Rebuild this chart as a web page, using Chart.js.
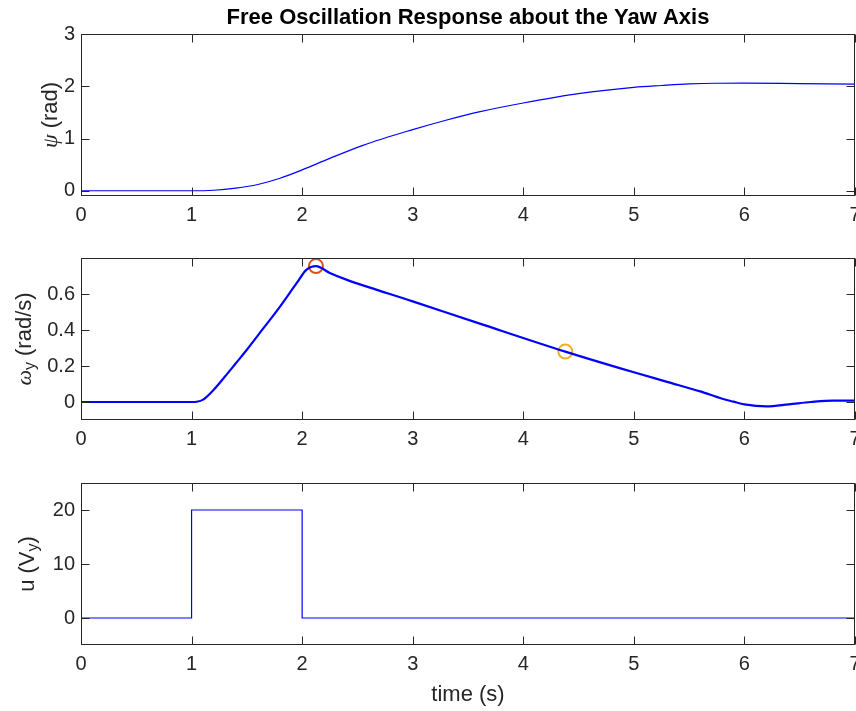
<!DOCTYPE html>
<html>
<head>
<meta charset="utf-8">
<title>Free Oscillation Response about the Yaw Axis</title>
<script src="https://cdn.jsdelivr.net/npm/chart.js@4.4.0/dist/chart.umd.min.js"></script>
<style>
  html, body { margin: 0; padding: 0; background: #fff; }
  #fig { position: relative; width: 856px; height: 711px; overflow: hidden; }
  #fig canvas { position: absolute; left: 0; }
</style>
</head>
<body>
<div id="fig">
  <canvas id="psiChart" width="856" height="230" style="top:0px"></canvas>
  <canvas id="omegaChart" width="856" height="222" style="top:230px"></canvas>
  <canvas id="uChart" width="856" height="259" style="top:452px"></canvas>
</div>
<script>
// yaw angle
const psiTime = [0, 1.0, 1.2, 1.4, 1.6, 1.8, 2.0, 2.25, 2.55, 3.0, 3.3, 3.6, 4.0, 4.5, 5.0, 5.25, 5.5, 5.75, 6.0, 6.5, 7.0];
const psiRad  = [0, 0, 0.01, 0.05, 0.12, 0.24, 0.40, 0.62, 0.87, 1.17, 1.35, 1.51, 1.68, 1.86, 1.98, 2.015, 2.045, 2.058, 2.06, 2.05, 2.04];

// yaw rate
const omegaTime = [0, 1.0, 1.1, 1.2, 1.3, 1.4, 1.5, 1.65, 1.8, 1.95, 2.04, 2.125, 2.25, 2.4, 3.0, 3.6, 4.38, 5.0, 5.3, 5.6, 5.8, 5.9, 6.0, 6.2, 6.4, 6.6, 6.8, 7.0];
const omegaRadS = [0, 0, 0.012, 0.068, 0.14, 0.215, 0.29, 0.41, 0.53, 0.66, 0.735, 0.755, 0.717, 0.68, 0.559, 0.437, 0.28, 0.165, 0.112, 0.059, 0.018, 0.002, -0.013, -0.024, -0.013, 0.0, 0.008, 0.008];

// marked samples on the rate curve
const peakMark = { t: 2.125, w: 0.755 };
const laterMark = { t: 4.38, w: 0.28 };

// input voltage pulse
const uTime = [0, 1, 1, 2, 2, 7];
const uVolt = [0, 0, 20, 20, 0, 0];

// tick values
const timeTicks = [0, 1, 2, 3, 4, 5, 6, 7];
const psiTicks = [0, 1, 2, 3];
const omegaTicks = [0, 0.2, 0.4, 0.6];
const uTicks = [0, 10, 20];

const INK = '#262626';
const SANS = '"Liberation Sans", Arial, Helvetica, sans-serif';
const SERIF = '"Liberation Serif", "DejaVu Serif", serif';
const LINE_BLUE = '#0000ff';

function pts(xs, ys) {
  return xs.map((x, i) => ({ x: x, y: ys[i] }));
}

// text drawn around each panel (rotated y labels can carry subscripts)
const panelText = {
  psiChart: {
    title: 'Free Oscillation Response about the Yaw Axis',
    ylabel: [
      { text: 'ψ', font: 'italic 22px ' + SERIF },
      { text: ' (rad)', font: '22px ' + SANS }
    ],
    ylabelPos: [51, 115]
  },
  omegaChart: {
    ylabel: [
      { text: 'ω', font: 'italic 22px ' + SERIF },
      { text: 'y', font: '16px ' + SANS, shift: 6 },
      { text: ' (rad/s)', font: '22px ' + SANS }
    ],
    ylabelPos: [25, 109]
  },
  uChart: {
    ylabel: [
      { text: 'u (V', font: '22px ' + SANS },
      { text: 'y', font: '16px ' + SANS, shift: 6 },
      { text: ')', font: '22px ' + SANS }
    ],
    ylabelPos: [28, 112],
    xlabel: 'time (s)',
    xlabelPos: [468, 243]
  }
};

function drawRotated(ctx, parts, cx, cy) {
  ctx.save();
  ctx.translate(cx, cy);
  ctx.rotate(-Math.PI / 2);
  ctx.textBaseline = 'middle';
  ctx.textAlign = 'left';
  const widths = parts.map(p => { ctx.font = p.font; return ctx.measureText(p.text).width; });
  let x = -widths.reduce((a, b) => a + b, 0) / 2;
  parts.forEach((p, i) => {
    ctx.font = p.font;
    ctx.fillText(p.text, x, p.shift || 0);
    x += widths[i];
  });
  ctx.restore();
}

// boxed axes with inward tick marks on all four sides
const boxFrame = {
  id: 'boxFrame',
  afterDatasetsDraw(chart) {
    const { ctx, chartArea: a, scales: { x, y } } = chart;
    const L = Math.round(a.left) + 0.5, R = Math.round(a.right) - 0.5;
    const T = Math.round(a.top) + 0.5, B = Math.round(a.bottom) - 0.5;
    const len = 8;
    ctx.save();
    ctx.strokeStyle = INK;
    ctx.lineWidth = 1;
    ctx.strokeRect(L, T, R - L, B - T);
    ctx.beginPath();
    x.ticks.forEach(t => {
      const px = Math.round(x.getPixelForValue(t.value)) + 0.5;
      ctx.moveTo(px, B); ctx.lineTo(px, B - len);
      ctx.moveTo(px, T); ctx.lineTo(px, T + len);
    });
    y.ticks.forEach(t => {
      const py = Math.round(y.getPixelForValue(t.value)) + 0.5;
      ctx.moveTo(L, py); ctx.lineTo(L + len, py);
      ctx.moveTo(R, py); ctx.lineTo(R - len, py);
    });
    ctx.stroke();
    ctx.restore();
  },
  afterDraw(chart) {
    const info = panelText[chart.canvas.id];
    if (!info) return;
    const ctx = chart.ctx;
    ctx.save();
    ctx.fillStyle = INK;
    drawRotated(ctx, info.ylabel, info.ylabelPos[0], info.ylabelPos[1]);
    if (info.xlabel) {
      ctx.font = '22px ' + SANS;
      ctx.textAlign = 'center';
      ctx.textBaseline = 'middle';
      ctx.fillText(info.xlabel, info.xlabelPos[0], info.xlabelPos[1]);
    }
    if (info.title) {
      ctx.fillStyle = '#000';
      ctx.font = 'bold 22px ' + SANS;
      ctx.textAlign = 'center';
      ctx.textBaseline = 'alphabetic';
      ctx.fillText(info.title, 468, 24);
    }
    ctx.restore();
  }
};

function fixedTicks(values) {
  return function (scale) {
    scale.ticks = values.map(v => ({ value: v }));
  };
}

function makePanel(id, datasets, yCfg, padTop, padBottom) {
  return new Chart(document.getElementById(id), {
    type: 'scatter',
    data: { datasets: datasets },
    options: {
      responsive: false,
      animation: false,
      events: [],
      layout: { autoPadding: false, padding: { top: padTop, bottom: padBottom, left: 0, right: 1 } },
      plugins: { legend: { display: false }, tooltip: { enabled: false } },
      scales: {
        x: {
          type: 'linear',
          min: 0,
          max: 7,
          grid: { display: false, drawTicks: false },
          border: { display: false },
          afterBuildTicks: fixedTicks(timeTicks),
          ticks: {
            autoSkip: false,
            maxRotation: 0,
            padding: 7,
            color: INK,
            font: { family: SANS, size: 20 }
          },
          afterFit(s) { s.height = 30; s.paddingLeft = 0; s.paddingRight = 0; }
        },
        y: {
          type: 'linear',
          min: yCfg.min,
          max: yCfg.max,
          grid: { display: false, drawTicks: false },
          border: { display: false },
          afterBuildTicks: fixedTicks(yCfg.ticks),
          ticks: {
            autoSkip: false,
            padding: 6,
            color: INK,
            font: { family: SANS, size: 20 }
          },
          afterFit(s) { s.width = 81; s.paddingTop = 0; s.paddingBottom = 0; }
        }
      }
    },
    plugins: [boxFrame]
  });
}

function lineSet(data, width, smooth) {
  return {
    data: data,
    showLine: true,
    borderColor: LINE_BLUE,
    borderWidth: width,
    pointRadius: 0,
    cubicInterpolationMode: smooth ? 'monotone' : 'default',
    tension: 0
  };
}

function ringSet(mark, color) {
  return {
    data: [{ x: mark.t, y: mark.w }],
    showLine: false,
    pointStyle: 'circle',
    pointRadius: 7,
    pointBorderWidth: 2,
    pointBorderColor: color,
    pointBackgroundColor: 'rgba(0,0,0,0)',
    clip: false
  };
}

makePanel('psiChart',
  [lineSet(pts(psiTime, psiRad), 1.2, true)],
  { min: -0.1, max: 3, ticks: psiTicks }, 34, 4);

makePanel('omegaChart',
  [
    lineSet(pts(omegaTime, omegaRadS), 2.2, true),
    ringSet(peakMark, '#D95319'),
    ringSet(laterMark, '#EDB120')
  ],
  { min: -0.1, max: 0.8, ticks: omegaTicks }, 28, 2);

makePanel('uChart',
  [lineSet(pts(uTime, uVolt), 1.2, false)],
  { min: -5, max: 25, ticks: uTicks }, 31, 36);
</script>
</body>
</html>
